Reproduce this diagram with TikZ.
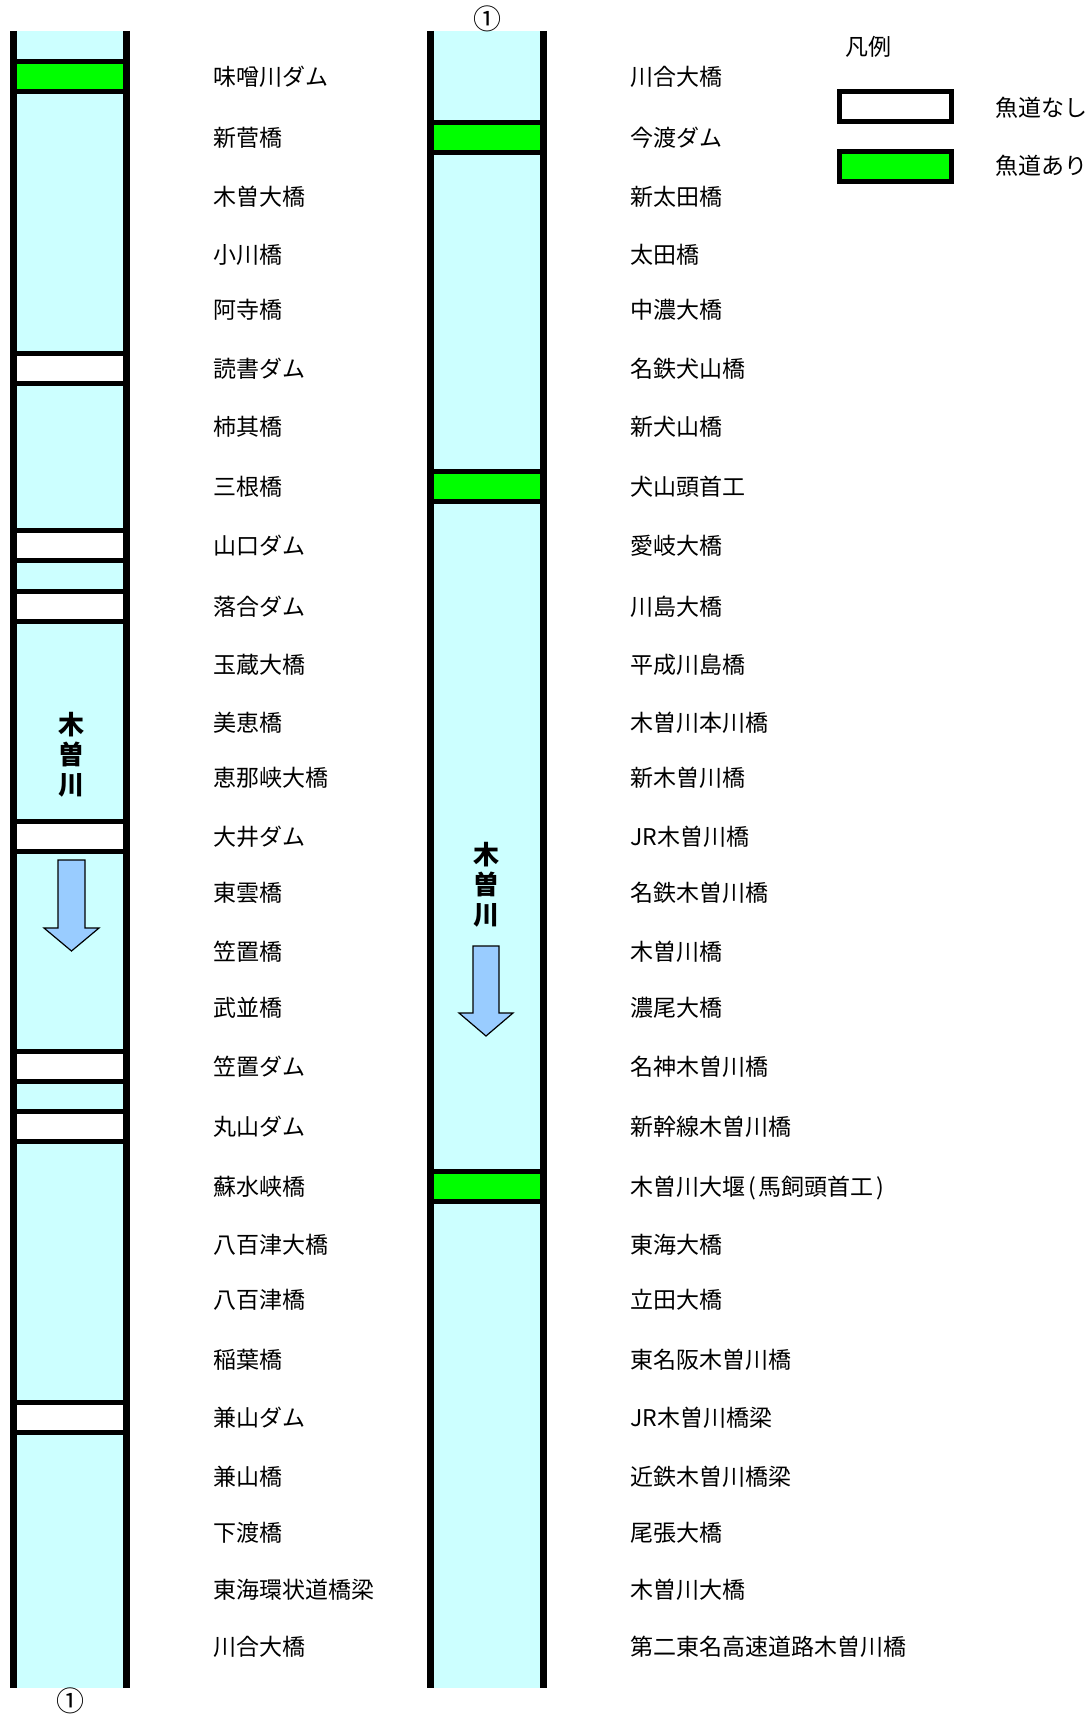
\documentclass[tikz,border=0pt]{standalone}
\usepackage{fontspec}
\newfontfamily\jp{Noto Sans CJK JP}
\definecolor{rivercol}{HTML}{CCFFFF}
\definecolor{fishgreen}{HTML}{00FF00}
\definecolor{arrowblue}{HTML}{99CCFF}
\begin{document}
\begin{tikzpicture}[x=1pt,y=-1pt,
  lbl/.style={anchor=base west,inner sep=0pt,font=\jp\fontsize{23}{27}\selectfont},
  circ/.style={inner sep=0pt,font=\jp\fontsize{28}{30}\selectfont},
  post/.style={line width=7pt,line cap=butt},
  fishno/.style={draw=black,line width=5pt,fill=white},
  fishyes/.style={draw=black,line width=5pt,fill=fishgreen},
  flow/.style={draw=black,line width=1.2pt,fill=arrowblue,line join=miter},
  rivername/.style={font=\jp\bfseries\fontsize{26}{30}\selectfont,align=center,inner sep=0pt}]
\useasboundingbox (0,0) rectangle (1085,1715);

% ---------- left column ----------
\fill[rivercol] (13.5,31) rectangle (126.5,1688);
\draw[fishyes] (13.5,77-15.5) rectangle (126.5,77+14.5);
\foreach \y in {369,546,607,837,1067,1127,1418}
  \draw[fishno] (13.5,\y-15.5) rectangle (126.5,\y+14.5);
\draw[post] (13.5,31) -- (13.5,1688);
\draw[post] (126.5,31) -- (126.5,1688);
\node[rivername] (kiso1) at (71,755) {木\\曽\\川};
\draw[flow] (58,860) -- (85,860) -- (85,928) -- (99,928) -- (71.5,951) -- (44,928) -- (58,928) -- cycle;
\node[circ] (c1b) at (70,1701) {①};

% ---------- right column ----------
\fill[rivercol] (430.5,31) rectangle (543.5,1688);
\foreach \y in {138,487,1187}
  \draw[fishyes] (430.5,\y-15.5) rectangle (543.5,\y+14.5);
\draw[post] (430.5,31) -- (430.5,1688);
\draw[post] (543.5,31) -- (543.5,1688);
\node[rivername] (kiso2) at (486,885) {木\\曽\\川};
\draw[flow] (473,946) -- (499,946) -- (499,1013) -- (513,1013) -- (486,1036) -- (459,1013) -- (473,1013) -- cycle;
\node[circ] (c1t) at (487,19) {①};

% ---------- labels ----------
\foreach \t/\y [count=\i] in {味噌川ダム/77,新菅橋/138,木曽大橋/197,小川橋/255,阿寺橋/310,読書ダム/369,柿其橋/427,三根橋/487,山口ダム/546,落合ダム/607,玉蔵大橋/665,美恵橋/723,恵那峡大橋/778,大井ダム/837,東雲橋/893,笠置橋/952,武並橋/1008,笠置ダム/1067,丸山ダム/1127,蘇水峡橋/1187,八百津大橋/1245,八百津橋/1300,稲葉橋/1360,兼山ダム/1418,兼山橋/1477,下渡橋/1533,東海環状道橋梁/1590,川合大橋/1647}
  \node[lbl] (L\i) at (213,\y+8.6) {\t};

\foreach \t/\y [count=\i] in {川合大橋/77,今渡ダム/138,新太田橋/197,太田橋/255,中濃大橋/310,名鉄犬山橋/369,新犬山橋/427,犬山頭首工/487,愛岐大橋/546,川島大橋/607,平成川島橋/665,木曽川本川橋/723,新木曽川橋/778,JR木曽川橋/837,名鉄木曽川橋/893,木曽川橋/952,濃尾大橋/1008,名神木曽川橋/1067,新幹線木曽川橋/1127,{木曽川大堰\hspace{3pt}(\hspace{3pt}馬飼頭首工\hspace{3pt})}/1187,東海大橋/1245,立田大橋/1300,東名阪木曽川橋/1360,JR木曽川橋梁/1418,近鉄木曽川橋梁/1477,尾張大橋/1533,木曽川大橋/1590,第二東名高速道路木曽川橋/1647}
  \node[lbl] (R\i) at (630,\y+8.6) {\t};

% ---------- legend ----------
\node[lbl] (legtitle) at (845,47+8.6) {凡例};
\draw[fishno] (839.5,91.5) rectangle (951.5,121.5);
\node[lbl] (legno) at (995,108+8.6) {魚道なし};
\draw[fishyes] (839.5,151.5) rectangle (951.5,181.5);
\node[lbl] (legyes) at (995,166+8.6) {魚道あり};
\end{tikzpicture}
\end{document}
